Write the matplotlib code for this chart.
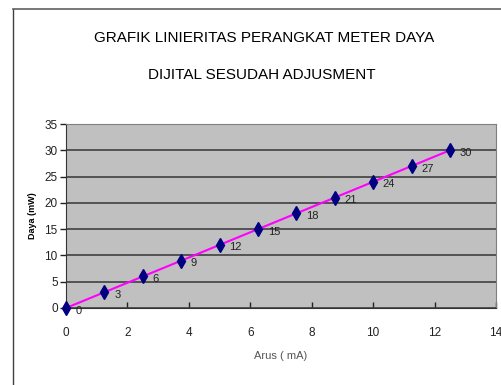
#!/usr/bin/env python3
import matplotlib
matplotlib.use('Agg')
import matplotlib.pyplot as plt
from matplotlib.lines import Line2D

# data
arus = [0, 1.25, 2.5, 3.75, 5, 6.25, 7.5, 8.75, 10, 11.25, 12.5]
daya = [0, 3, 6, 9, 12, 15, 18, 21, 24, 27, 30]
x_ticks = [0, 2, 4, 6, 8, 10, 12, 14]
y_ticks = [0, 5, 10, 15, 20, 25, 30, 35]

plt.rcParams['font.family'] = ['Liberation Sans', 'DejaVu Sans']

fig = plt.figure(figsize=(5.02, 3.85), dpi=100)
fig.patch.set_facecolor('white')

# chart frame (left and top edges visible)
fx = 13 / 502
fy = 1 - 9 / 385
fig.add_artist(Line2D([fx, fx], [0, fy], transform=fig.transFigure, color='#404040', lw=1))
fig.add_artist(Line2D([fx, 1], [fy, fy], transform=fig.transFigure, color='#606060', lw=1.2))

ax = fig.add_axes([66 / 502, 1 - 308 / 385, 430 / 502, 184 / 385])
ax.set_facecolor('#c0c0c0')

ax.plot(arus, daya, color='#ff00ff', lw=1.5, zorder=3)
ax.plot(arus, daya, ls='none', marker='d', ms=7.5, color='#000080', zorder=4, clip_on=False)
for x, y in zip(arus, daya):
    ax.annotate(str(y), (x, y), xytext=(7, -4), textcoords='offset points',
                fontsize=8, color='#222222', zorder=5)

ax.set_xlim(0, 14)
ax.set_ylim(0, 35)
ax.set_xticks(x_ticks)
ax.set_yticks(y_ticks)
ax.yaxis.grid(True, color='#404040', lw=1.2)
ax.set_axisbelow(True)
ax.tick_params(axis='both', labelsize=8.5, colors='#222222', length=4, width=1)
ax.tick_params(axis='x', direction='in', pad=14)
ax.tick_params(axis='y', direction='out', pad=2)
for s in ['left', 'bottom']:
    ax.spines[s].set_color('#333333')
for s in ['top', 'right']:
    ax.spines[s].set_color('#808080')

ax.set_xlabel('Arus ( mA)', fontsize=8, color='#555555', labelpad=8)
ax.set_ylabel('Daya (mW)', fontsize=6.5, fontweight='bold', color='black', labelpad=5)

fig.text(264 / 502, 1 - 38 / 385, 'GRAFIK LINIERITAS PERANGKAT METER DAYA',
         ha='center', va='center', fontsize=11, color='black')
fig.text(262 / 502, 1 - 75 / 385, 'DIJITAL SESUDAH ADJUSMENT',
         ha='center', va='center', fontsize=11, color='black')

fig.savefig('out.png', dpi=100)
